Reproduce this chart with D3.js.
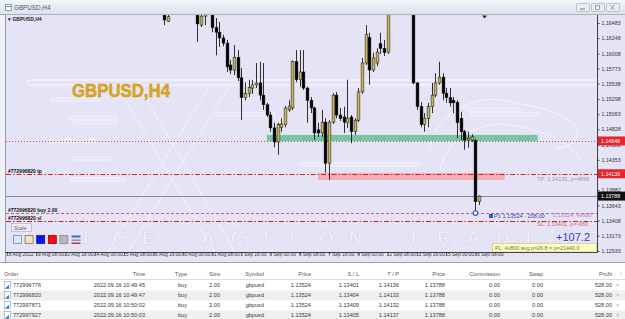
<!DOCTYPE html>
<html><head><meta charset="utf-8">
<script src="https://cdn.jsdelivr.net/npm/d3@7"></script>
<style>
html,body{margin:0;padding:0;background:#eef1f5;overflow:hidden}
svg{display:block}
text{font-family:"Liberation Sans",Arial,sans-serif}
</style></head><body>
<svg id="c" width="625" height="319"></svg>
<script>
// ---------- DATA ----------
const firstBar = 42; // bar index (H4) of first candle, 0 = 18 Aug 2022 00:00
const opens = [
 1.1720,1.1680,1.1651,1.1665,1.1705,1.1730,1.1722,1.1740,
 1.1735,1.1700,1.1680,1.1645,1.1659,1.1672,1.1680,1.1641,
 1.1634,1.1625,1.1617,1.1583,1.1575,1.1595,1.1563,1.1532,
 1.1539,1.1547,1.1552,1.1555,1.1536,1.1521,1.1505,1.1485,
 1.1463,1.1486,1.1490,1.1513,1.1516,1.1588,1.1560,1.1572,
 1.1547,1.1528,1.1516,1.1482,1.1477,1.1494,1.1430,1.1494,
 1.1536,1.1505,1.1502,1.1493,1.1502,1.1479,1.1497,1.1541,
 1.1586,1.1626,1.1575,1.1586,1.1616,1.1609,1.1603,1.1699,
 1.1705,1.1690,1.1685,1.1700,1.1715,1.1710,1.1555,1.1518,
 1.1490,1.1500,1.1518,1.1536,1.1555,1.1564,1.1539,1.1532,
 1.1528,1.1525,1.1500,1.1479,1.1466,1.1466,1.1465,1.1370];
const highs = [
 1.1728,1.1686,1.1662,1.1712,1.1740,1.1745,1.1748,1.1762,
 1.1745,1.1712,1.1690,1.1668,1.1685,1.1690,1.1688,1.1656,
 1.1650,1.1630,1.1622,1.1591,1.1614,1.1606,1.1578,1.1556,
 1.1560,1.1560,1.1586,1.1588,1.1586,1.1524,1.1510,1.1493,
 1.1493,1.1500,1.1519,1.1528,1.1590,1.1606,1.1606,1.1606,
 1.1549,1.1533,1.1518,1.1493,1.1513,1.1500,1.1497,1.1539,
 1.1541,1.1516,1.1518,1.1560,1.1505,1.1500,1.1547,1.1594,
 1.1645,1.1633,1.1602,1.1609,1.1633,1.1622,1.1710,1.1718,
 1.1712,1.1700,1.1705,1.1725,1.1738,1.1720,1.1556,1.1525,
 1.1508,1.1524,1.1555,1.1570,1.1588,1.1570,1.1547,1.1547,
 1.1533,1.1528,1.1510,1.1482,1.1479,1.1475,1.1468,1.1380];
const lows = [
 1.1668,1.1645,1.1650,1.1663,1.1695,1.1715,1.1710,1.1725,
 1.1690,1.1668,1.1619,1.1642,1.1645,1.1663,1.1634,1.1598,
 1.1611,1.1612,1.1572,1.1569,1.1567,1.1558,1.1497,1.1528,
 1.1533,1.1538,1.1547,1.1528,1.1513,1.1502,1.1479,1.1455,
 1.1443,1.1479,1.1486,1.1510,1.1513,1.1556,1.1549,1.1544,
 1.1493,1.1508,1.1466,1.1471,1.1471,1.1415,1.1404,1.1491,
 1.1500,1.1496,1.1477,1.1485,1.1461,1.1474,1.1494,1.1538,
 1.1583,1.1552,1.1572,1.1581,1.1600,1.1597,1.1600,1.1688,
 1.1680,1.1670,1.1675,1.1690,1.1700,1.1553,1.1513,1.1486,
 1.1479,1.1486,1.1508,1.1533,1.1552,1.1528,1.1524,1.1518,
 1.1508,1.1469,1.1466,1.1451,1.1454,1.1463,1.1351,1.1365];
const closes = [
 1.1680,1.1653,1.1658,1.1705,1.1730,1.1722,1.1740,1.1735,
 1.1700,1.1680,1.1647,1.1659,1.1672,1.1680,1.1641,1.1634,
 1.1625,1.1617,1.1580,1.1575,1.1595,1.1563,1.1532,1.1539,
 1.1548,1.1552,1.1555,1.1536,1.1521,1.1505,1.1485,1.1463,
 1.1490,1.1491,1.1516,1.1519,1.1588,1.1560,1.1572,1.1547,
 1.1528,1.1516,1.1477,1.1477,1.1494,1.1430,1.1494,1.1536,
 1.1505,1.1500,1.1494,1.1500,1.1479,1.1497,1.1541,1.1586,
 1.1630,1.1575,1.1594,1.1603,1.1609,1.1602,1.1699,1.1705,
 1.1690,1.1685,1.1700,1.1715,1.1710,1.1555,1.1518,1.1490,
 1.1500,1.1518,1.1536,1.1555,1.1564,1.1539,1.1532,1.1524,
 1.1524,1.1493,1.1479,1.1466,1.1469,1.1471,1.1370,1.13788];

const priceTicks = [1.16483,1.16248,1.16008,1.15773,1.15538,1.15298,1.15063,1.14828,1.14588,1.14353,1.13882,1.13643,1.13408,1.13173,1.12933];
const timeTickBars = [0,8,16,24,32,40,48,56,64,72,80,88,96,104,112,120,128];
const timeLabels = ["18 Aug 2022","19 Aug 08:00","22 Aug 16:00","24 Aug 00:00","25 Aug 08:00","26 Aug 16:00","30 Aug 00:00","31 Aug 08:00","1 Sep 16:00","5 Sep 00:00","6 Sep 08:00","7 Sep 16:00","9 Sep 00:00","12 Sep 08:00","13 Sep 16:00","15 Sep 00:00","16 Sep 08:00"];

const levelPrice = 1.14646, tpPrice = 1.14136, bidPrice = 1.13788, openPrice = 1.13524, slPrice = 1.13401;
const greenZone = [1.14645, 1.14740], greenZoneBars = [71, 145];
const pinkZone = [1.14039, 1.14148], pinkZoneBars = [85, 136];

const orderIds = ["772996776","772996820","772997871","772997927"];
const orderTimes = ["2022.09.16 10:49:45","2022.09.16 10:49:47","2022.09.16 10:50:02","2022.09.16 10:50:03"];
const orderTypes = ["buy","buy","buy","buy"];
const orderSizes = ["2.00","2.00","2.00","2.00"];
const orderSymbols = ["gbpusd","gbpusd","gbpusd","gbpusd"];
const orderOpen = ["1.13524","1.13524","1.13524","1.13524"];
const orderSL = ["1.13401","1.13404","1.13409","1.13405"];
const orderTP = ["1.14136","1.14133","1.14132","1.14137"];
const orderPrice = ["1.13788","1.13788","1.13788","1.13788"];
const orderComm = ["0.00","0.00","0.00","0.00"];
const orderSwap = ["0.00","0.00","0.00","0.00"];
const orderProfit = ["528.00","528.00","528.00","528.00"];
const tableHeaders = ["Order","Time","Type","Size","Symbol","Price","S / L","T / P","Price","Commission","Swap","Profit"];

// ---------- LAYOUT ----------
const svg = d3.select('#c');
const P = {l:5, r:597, t:15, b:252};
const x = d3.scaleLinear().domain([0,129]).range([7,479.1]);
const y = d3.scaleLinear().domain([1.12933,1.16483]).range([251,23]);
const LAV = '#e5e4f6';

const defs = svg.append('defs');
const tg = defs.append('linearGradient').attr('id','tbar').attr('x1',0).attr('y1',0).attr('x2',0).attr('y2',1);
tg.append('stop').attr('offset',0).attr('stop-color','#f3f6fa');
tg.append('stop').attr('offset',1).attr('stop-color','#d9e1ea');
defs.append('clipPath').attr('id','clip').append('rect')
  .attr('x',P.l+1).attr('y',P.t).attr('width',P.r-P.l-1).attr('height',P.b-P.t);

// window frame
svg.append('rect').attr('width',625).attr('height',319).attr('fill','#eef1f5');
// title bar
svg.append('rect').attr('x',0).attr('y',0).attr('width',625).attr('height',15).attr('fill','url(#tbar)');
svg.append('line').attr('x1',0).attr('x2',625).attr('y1',14.5).attr('y2',14.5).attr('stroke','#a8b2c0');
svg.append('rect').attr('x',5.5).attr('y',4.5).attr('width',6).attr('height',6).attr('fill','#fff').attr('stroke','#6d8fb5').attr('stroke-width',0.8);
svg.append('line').attr('x1',5.5).attr('x2',11.5).attr('y1',6.5).attr('y2',6.5).attr('stroke','#6d8fb5').attr('stroke-width',1);
svg.append('text').attr('x',14).attr('y',10).attr('font-size',6.3).attr('fill','#555').text('GBPUSD,H4');
[576,591,606].forEach((bx,i)=>{
  svg.append('rect').attr('x',bx+0.5).attr('y',3.5).attr('width',13).attr('height',8).attr('rx',1)
    .attr('fill','#e8edf3').attr('stroke','#9aa6b6').attr('stroke-width',0.6);
  if(i===0) svg.append('line').attr('x1',bx+4).attr('x2',bx+9).attr('y1',9).attr('y2',9).attr('stroke','#777');
  if(i===1) svg.append('rect').attr('x',bx+4.5).attr('y',5.5).attr('width',4).attr('height',4).attr('fill','none').attr('stroke','#777').attr('stroke-width',0.6);
  if(i===2){svg.append('path').attr('d',`M${bx+4.5},5 L${bx+8.5},10 M${bx+8.5},5 L${bx+4.5},10`).attr('stroke','#777').attr('stroke-width',0.7);}
});

// chart client background
svg.append('rect').attr('x',P.l).attr('y',P.t).attr('width',625-P.l).attr('height',262-P.t).attr('fill',LAV);

// ---------- WATERMARK ----------
const wm = svg.append('g').attr('clip-path','url(#clip)').attr('fill','none').attr('stroke','#ffffff');
wm.append('rect').attr('x',28).attr('y',80).attr('width',575).attr('height',5).attr('rx',2.5).attr('stroke-width',1).attr('opacity',0.9);
[[50,98,50],[68,116,50],[73,121,45],[50,139,47],[72,157,40],[70,178,55],[215,113,60],[470,113,70],[465,108,55],[300,163,120]].forEach(s=>{
  wm.append('rect').attr('x',s[0]).attr('y',s[1]).attr('width',s[2]).attr('height',3).attr('rx',1.5).attr('stroke-width',0.8).attr('opacity',0.8);
});
[[118,88,215,252],[208,88,108,252],[140,88,235,252],[228,88,128,252]].forEach(s=>{
  wm.append('line').attr('x1',s[0]).attr('y1',s[1]).attr('x2',s[2]).attr('y2',s[3]).attr('stroke-width',0.9).attr('opacity',0.6);
});
wm.append('path').attr('d','M430,150 C430,120 470,95 500,100 C530,105 560,110 575,125 C585,140 565,150 555,148').attr('stroke-width',0.8).attr('opacity',0.8);
wm.append('path').attr('d','M440,170 C445,140 480,120 510,125 C540,130 570,140 580,160').attr('stroke-width',0.8).attr('opacity',0.7);
const letters = "PRICE ACTION TRADING".split('');
const wmt = svg.append('g').attr('clip-path','url(#clip)');
letters.forEach((ch,k)=>{
  if(ch===' ') return;
  wmt.append('text').attr('x',24+k*29.5).attr('y',244).attr('font-size',19).attr('font-weight','bold')
    .attr('fill','#ffffff').attr('fill-opacity',0.55).attr('stroke','#cfcde3').attr('stroke-width',0.5).text(ch);
});

// ---------- ZONES & LINES ----------
const zones = svg.append('g').attr('clip-path','url(#clip)');
zones.append('rect').attr('x',x(greenZoneBars[0])).attr('width',x(greenZoneBars[1])-x(greenZoneBars[0]))
  .attr('y',y(greenZone[1])).attr('height',y(greenZone[0])-y(greenZone[1])).attr('fill','#66c49a').attr('opacity',0.9);
zones.append('rect').attr('x',x(pinkZoneBars[0])).attr('width',x(pinkZoneBars[1])-x(pinkZoneBars[0]))
  .attr('y',y(pinkZone[1])).attr('height',y(pinkZone[0])-y(pinkZone[1])).attr('fill','#f7a6ad').attr('opacity',0.9);

function hline(p, color, dash, w){
  svg.append('line').attr('x1',P.l+1).attr('x2',P.r).attr('y1',Math.round(y(p))+0.5).attr('y2',Math.round(y(p))+0.5)
    .attr('stroke',color).attr('stroke-width',w||1).attr('stroke-dasharray',dash||null);
}
hline(levelPrice,'#e23a3a','1,2');
hline(tpPrice,'#e01c1c','5,2,1.5,2');
hline(bidPrice,'#7a7a88',null,0.9);
hline(openPrice,'#d05a82','3,2');
hline(slPrice,'#d81818','5,2,1.5,2');

// ---------- CANDLES ----------
const bars = opens.map((o,i)=>({i:firstBar+i,o,h:highs[i],l:lows[i],c:closes[i]}));
const cg = svg.append('g').attr('clip-path','url(#clip)');
cg.selectAll('line.w').data(bars).join('line').attr('class','w')
  .attr('x1',d=>Math.round(x(d.i))+0.5).attr('x2',d=>Math.round(x(d.i))+0.5)
  .attr('y1',d=>y(d.h)).attr('y2',d=>y(d.l)).attr('stroke','#1a1a1a').attr('stroke-width',0.9);
cg.selectAll('rect.b').data(bars).join('rect').attr('class','b')
  .attr('x',d=>Math.round(x(d.i))-0.9).attr('width',2.8)
  .attr('y',d=>y(Math.max(d.o,d.c)))
  .attr('height',d=>Math.max(0.9,Math.abs(y(d.o)-y(d.c))))
  .attr('fill',d=>d.c>=d.o?'#c9b65c':'#000').attr('stroke','#111').attr('stroke-width',0.5);

// open-price marker
svg.append('circle').attr('cx',Math.round(x(128))+0.5).attr('cy',y(openPrice)).attr('r',2.3)
  .attr('fill','#fff').attr('stroke','#2a5bd8').attr('stroke-width',1.2);
// chart shift marker
svg.append('path').attr('d',`M${x(130.5)-2.5},${P.t+0.5} L${x(130.5)+2.5},${P.t+0.5} L${x(130.5)},${P.t+3.5} Z`).attr('fill','#222');

// ---------- LABELS ON CHART ----------
svg.append('text').attr('x',8).attr('y',21).attr('font-size',5).attr('font-weight','bold').attr('fill','#222').text('▾ GBPUSD,H4');
svg.append('text').attr('x',72).attr('y',97).attr('font-size',18).attr('font-weight','bold').attr('fill','#d9a81c')
  .attr('stroke','#c89410').attr('stroke-width',0.4)
  .attr('textLength',98).attr('lengthAdjust','spacingAndGlyphs').attr('font-family','"DejaVu Sans",sans-serif').text('GBPUSD,H4');

const lab = (t,p,dy)=>svg.append('text').attr('x',8).attr('y',y(p)+dy).attr('font-size',5).attr('font-weight','bold').attr('fill','#111').text(t);
lab('#772996820 tp', tpPrice, -1.2);
lab('#772996820 buy 2.00', openPrice, -1.5);
lab('#772996820 sl', slPrice, -1);

const mono = '"DejaVu Sans Mono","Liberation Mono",monospace';
svg.append('text').attr('x',537).attr('y',y(tpPrice)+7).attr('font-size',5.6).attr('font-family',mono).attr('fill','#9a9aa8').text('TP: 1.14136, p=4896');
svg.append('rect').attr('x',489).attr('y',y(openPrice)+1).attr('width',4).attr('height',4).attr('fill','#2a5bd8');
svg.append('text').attr('x',494).attr('y',y(openPrice)+5).attr('font-size',5.6).attr('font-family',mono).attr('fill','#2a48b8').text('P1 1.13524 · 208.00');
svg.append('text').attr('x',553).attr('y',y(openPrice)+3.5).attr('font-size',5.6).attr('font-family',mono).attr('fill','#b080c8').text('1.13524, 4x600');
svg.append('text').attr('x',537).attr('y',y(slPrice)+5).attr('font-size',5.6).attr('font-family',mono).attr('fill','#d0607a').text('SL: 1.13401, p=-960');
svg.append('text').attr('x',590).attr('y',241).attr('text-anchor','end').attr('font-size',11).attr('fill','#2a3fd0').text('+107.2');
svg.append('rect').attr('x',492.5).attr('y',243.5).attr('width',104).attr('height',8.5).attr('fill','#ffffc4').attr('stroke','#c8c878').attr('stroke-width',0.7);
svg.append('text').attr('x',495).attr('y',250).attr('font-size',5.4).attr('font-family',mono).attr('fill','#6a7a40').text('PL: 4x800 avg p=26.8 = p=21440.0');

// scale toolbar
svg.append('rect').attr('x',11.5).attr('y',223.5).attr('width',20).attr('height',8).attr('fill','#eceaf4').attr('stroke','#a8a8bc').attr('stroke-width',0.6);
svg.append('text').attr('x',14).attr('y',230).attr('font-size',5).attr('fill','#666').text('Scale');
[['#dbe9f7','#5f8fc4'],['#f5dccb','#a06a48'],['#0a14f0','#0a14a0'],['#f41010','#a00000'],['#b8b8bc','#888']].forEach((c,i)=>{
  svg.append('rect').attr('x',13.5+i*11.6).attr('y',235.5).attr('width',8).attr('height',8).attr('fill',c[0]).attr('stroke',c[1]).attr('stroke-width',0.8);
});
svg.append('rect').attr('x',71.5).attr('y',235.5).attr('width',9).attr('height',2).attr('fill','#3a6ad0');
svg.append('rect').attr('x',71.5).attr('y',239.5).attr('width',9).attr('height',1.5).attr('fill','#7a90c0');
svg.append('rect').attr('x',71.5).attr('y',242.5).attr('width',9).attr('height',1.5).attr('fill','#d03030');

// ---------- AXES ----------
svg.append('line').attr('x1',P.l+0.5).attr('x2',P.l+0.5).attr('y1',P.t).attr('y2',262).attr('stroke','#9a9aae');
svg.append('line').attr('x1',P.r+0.5).attr('x2',P.r+0.5).attr('y1',P.t).attr('y2',P.b+0.5).attr('stroke','#444');
svg.append('line').attr('x1',P.l).attr('x2',P.r+0.5).attr('y1',P.b+0.5).attr('y2',P.b+0.5).attr('stroke','#444');

const ya = svg.append('g').attr('transform',`translate(${P.r+0.5},0)`)
  .call(d3.axisRight(y).tickValues(priceTicks).tickSize(2).tickPadding(2).tickFormat(d3.format('.5f')));
ya.select('.domain').remove();
ya.selectAll('line').attr('stroke','#444');
ya.selectAll('text').attr('font-size',5.3).attr('fill','#333').attr('font-family','"Liberation Sans",Arial,sans-serif');

const xa = svg.append('g').attr('transform',`translate(0,${P.b+0.5})`)
  .call(d3.axisBottom(x).tickValues(timeTickBars).tickSize(2).tickFormat((d,i)=>timeLabels[i]));
xa.select('.domain').remove();
xa.selectAll('line').attr('stroke','#444');
xa.selectAll('text').attr('text-anchor','start').attr('dx',-1.5).attr('dy',-1.8).attr('font-size',4.9).attr('fill','#333')
  .attr('font-family','"Liberation Sans",Arial,sans-serif');

function axisTag(p, bg){
  const yy = y(p);
  svg.append('rect').attr('x',P.r+1).attr('y',yy-4.5).attr('width',27).attr('height',9).attr('fill',bg);
  svg.append('text').attr('x',P.r+4).attr('y',yy+2).attr('font-size',5.3).attr('fill','#fff').text(d3.format('.5f')(p));
}
axisTag(levelPrice,'#e8242c');
axisTag(tpPrice,'#e8242c');
axisTag(bidPrice,'#111');

// ---------- TABLE ----------
svg.append('rect').attr('x',0).attr('y',262).attr('width',625).attr('height',57).attr('fill','#fff');
svg.append('line').attr('x1',0).attr('x2',625).attr('y1',262.5).attr('y2',262.5).attr('stroke','#9aa3b0');
svg.append('line').attr('x1',0).attr('x2',625).attr('y1',279.5).attr('y2',279.5).attr('stroke','#dcdcdc');
const colRight = [null,145,187,220,264,311,359,399,445,500,543,612];
const hdrY = 275.5, rowY0 = 287.3, rowH = 10;
tableHeaders.forEach((h,i)=>{
  svg.append('text').attr('x',i===0?4:colRight[i]).attr('y',hdrY).attr('text-anchor',i===0?'start':'end')
    .attr('font-size',5.6).attr('fill','#555').text(h);
});
svg.append('text').attr('x',620).attr('y',hdrY).attr('font-size',5.6).attr('fill','#bbb').text('/');
const cols = [orderIds,orderTimes,orderTypes,orderSizes,orderSymbols,orderOpen,orderSL,orderTP,orderPrice,orderComm,orderSwap,orderProfit];
orderIds.forEach((id,r)=>{
  const yy = rowY0 + r*rowH;
  if(r%2===1) svg.append('rect').attr('x',0).attr('y',yy-6.8).attr('width',625).attr('height',rowH).attr('fill','#efefef');
  svg.append('rect').attr('x',4.5).attr('y',yy-6).attr('width',6).attr('height',7).attr('fill','#fff').attr('stroke','#8a9ab0').attr('stroke-width',0.6);
  svg.append('path').attr('d',`M5,${yy+1.2} L9,${yy-2.5} L9,${yy+1.2} Z`).attr('fill','#2a7ad0');
  cols.forEach((col,i)=>{
    svg.append('text').attr('x',i===0?13:colRight[i]).attr('y',yy).attr('text-anchor',i===0?'start':'end')
      .attr('font-size',5.6).attr('fill','#3a3a3a').text(col[r]);
  });
  svg.append('text').attr('x',616).attr('y',yy).attr('font-size',5.6).attr('fill','#aaa').text('×');
});
</script>
</body></html>
